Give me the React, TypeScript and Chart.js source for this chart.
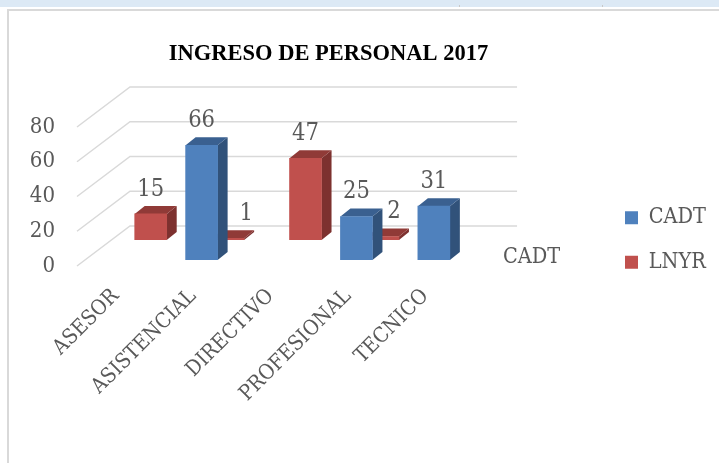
import React, { useEffect, useRef } from "react";
import { Chart, registerables } from "chart.js";

Chart.register(...registerables);

const categories = ["ASESOR", "ASISTENCIAL", "DIRECTIVO", "PROFESIONAL", "TECNICO"];
const cadt = [null, 66, null, 25, 31];
const lnyr = [15, 1, 47, 2, null];
const yTicksStep = 20;
const yMax = 80;

const TEXT = "#595959";
const SERIF = "'DejaVu Serif Condensed', 'Liberation Serif', serif";

const looks = [
  { front: "#4f81bd", side: "#31527a", top: "#3a6090", dx: 8.5, dy: -6, nudge: [0, 0, 0, 0, 0] },
  { front: "#c0504d", side: "#7d312f", top: "#903a37", dx: 35, dy: -26, nudge: [0, 18, 0, 11, 0] },
];
const DEPTH_X = 10;
const DEPTH_Y = -8;
const WALL_X = 53;
const WALL_Y = -40;

const scene3d = {
  id: "scene3d",
  afterLayout(chart: any) {
    const t = chart.titleBlock;
    if (t) {
      t.left = 0;
      t.right = 657;
    }
    const l = chart.legend;
    if (l) {
      const w = l.right - l.left;
      l.left = 602;
      l.right = 602 + w;
      l.top = 184;
      l.bottom = 184 + 120;
    }
  },
  beforeDatasetsDraw(chart: any) {
    const { ctx, chartArea, scales } = chart;
    ctx.save();
    ctx.strokeStyle = "#d9d9d9";
    ctx.lineWidth = 1.5;
    ctx.beginPath();
    scales.y.ticks.forEach((tk: any) => {
      const py = scales.y.getPixelForValue(tk.value);
      ctx.moveTo(chartArea.left, py);
      ctx.lineTo(chartArea.left + WALL_X, py + WALL_Y);
      ctx.lineTo(chartArea.right + WALL_X, py + WALL_Y);
    });
    ctx.stroke();
    ctx.restore();
  },
  beforeDatasetDraw(chart: any, args: any) {
    const { ctx } = chart;
    const look = looks[args.index];
    const values = chart.data.datasets[args.index].data;
    ctx.save();
    ctx.translate(look.dx, look.dy);
    args.meta.data.forEach((el: any, j: number) => {
      if (values[j] == null) return;
      const { x, y, base, width } = el.getProps(["x", "y", "base", "width"]);
      const left = x - width / 2;
      const right = x + width / 2;
      ctx.fillStyle = look.side;
      ctx.beginPath();
      ctx.moveTo(right, y);
      ctx.lineTo(right + DEPTH_X, y + DEPTH_Y);
      ctx.lineTo(right + DEPTH_X, base + DEPTH_Y);
      ctx.lineTo(right, base);
      ctx.closePath();
      ctx.fill();
      ctx.fillStyle = look.top;
      ctx.beginPath();
      ctx.moveTo(left, y);
      ctx.lineTo(left + DEPTH_X, y + DEPTH_Y);
      ctx.lineTo(right + DEPTH_X, y + DEPTH_Y);
      ctx.lineTo(right, y);
      ctx.closePath();
      ctx.fill();
    });
  },
  afterDatasetDraw(chart: any) {
    chart.ctx.restore();
  },
  afterDatasetsDraw(chart: any) {
    const { ctx, chartArea } = chart;
    ctx.save();
    ctx.fillStyle = TEXT;
    ctx.textAlign = "center";
    ctx.textBaseline = "middle";
    ctx.font = `23.5px ${SERIF}`;
    chart.data.datasets.forEach((ds: any, i: number) => {
      const look = looks[i];
      chart.getDatasetMeta(i).data.forEach((el: any, j: number) => {
        if (ds.data[j] == null) return;
        ctx.fillText(String(ds.data[j]), el.x + look.dx + look.nudge[j], el.y + look.dy - 24.5);
      });
    });
    ctx.font = `21.5px ${SERIF}`;
    ctx.textAlign = "left";
    ctx.fillText(chart.data.datasets[0].label, chartArea.right + 39, chartArea.bottom - 9);
    ctx.restore();
  },
};

export default function App() {
  const ref = useRef<HTMLCanvasElement>(null);
  useEffect(() => {
    const chart = new Chart(ref.current as HTMLCanvasElement, {
      type: "bar",
      plugins: [scene3d],
      data: {
        labels: categories,
        datasets: [
          { label: "CADT", data: cadt, backgroundColor: looks[0].front, grouped: false, barThickness: 32 },
          { label: "LNYR", data: lnyr, backgroundColor: looks[1].front, grouped: false, barThickness: 32 },
        ],
      } as any,
      options: {
        responsive: false,
        animation: false,
        layout: { padding: { left: 30, right: 141, top: 0, bottom: 47 } },
        plugins: {
          tooltip: { enabled: false },
          title: {
            display: true,
            text: "INGRESO DE PERSONAL 2017",
            color: "#000000",
            font: { family: "'Liberation Serif', serif", size: 22.5, weight: "bold" },
            padding: { top: 41, bottom: 59 },
          },
          legend: {
            position: "right",
            align: "start",
            labels: {
              boxWidth: 13,
              boxHeight: 13,
              padding: 23,
              color: TEXT,
              font: { family: SERIF, size: 21.5 },
            },
          },
        },
        scales: {
          x: {
            border: { display: false },
            grid: { display: false, drawTicks: false },
            ticks: {
              color: TEXT,
              font: { family: SERIF, size: 21 },
              minRotation: 45,
              maxRotation: 45,
              padding: 18,
              autoSkip: false,
            },
            afterFit(s: any) {
              s.height = 150;
              s.paddingLeft = 0;
              s.paddingRight = 0;
            },
          },
          y: {
            min: 0,
            max: yMax,
            border: { display: false },
            grid: { display: false, drawTicks: false },
            ticks: { stepSize: yTicksStep, color: TEXT, font: { family: SERIF, size: 22 }, padding: 22 },
            afterFit(s: any) {
              s.width = 47;
              s.paddingTop = 0;
              s.paddingBottom = 0;
            },
          },
        },
      } as any,
    });
    return () => chart.destroy();
  }, []);

  return (
    <div style={{ position: "fixed", left: 0, top: 0, width: 719, height: 463, overflow: "hidden", background: "#ffffff" }}>
      <div style={{ position: "absolute", left: 0, top: 0, width: 719, height: 7, background: "#dce9f5" }} />
      {[459, 602].map((x) => (
        <div key={x} style={{ position: "absolute", left: x, top: 5, width: 1, height: 2, background: "#c8c8c8" }} />
      ))}
      <div style={{ position: "absolute", left: 7, top: 9, width: 740, height: 480, border: "2px solid #d9d9d9", boxSizing: "border-box" }} />
      <canvas ref={ref} width={719} height={463} style={{ position: "absolute", left: 0, top: 0 }} />
    </div>
  );
}
